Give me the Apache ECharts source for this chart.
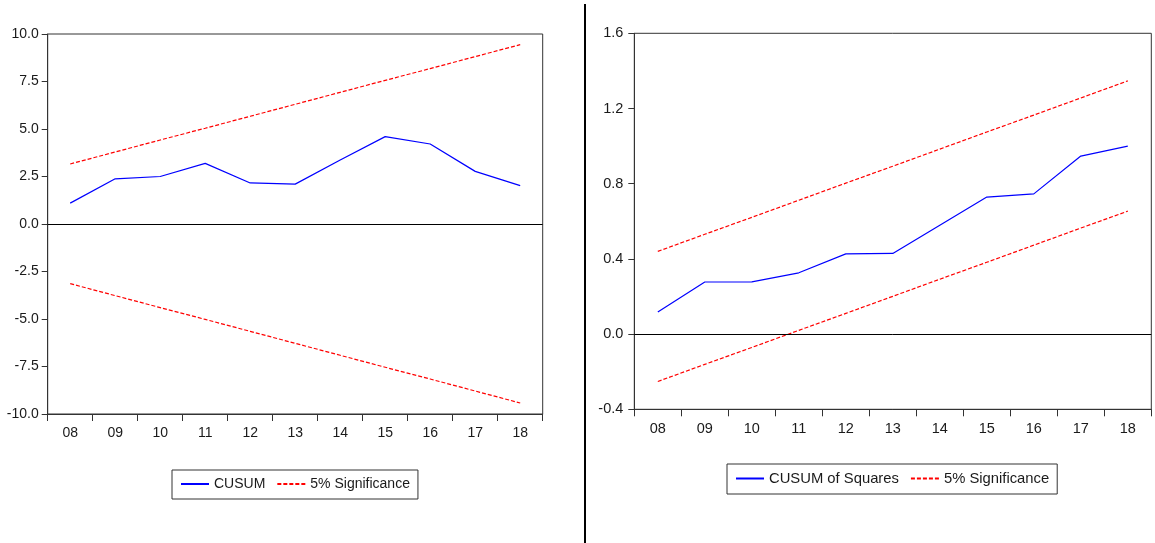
<!DOCTYPE html>
<html>
<head>
<meta charset="utf-8">
<script src="https://cdn.jsdelivr.net/npm/echarts@6/dist/echarts.min.js"></script>
<style>
html,body{margin:0;padding:0;background:#fff;}
#c{width:1155px;height:543px;}
</style>
</head>
<body>
<div id="c"></div>
<script>
const categories = ['08','09','10','11','12','13','14','15','16','17','18'];
const cusum = [1.10, 2.38, 2.50, 3.19, 2.16, 2.10, 3.37, 4.60, 4.21, 2.77, 2.02];
const cusumUpper = [3.16, 3.79, 4.42, 5.04, 5.67, 6.30, 6.93, 7.56, 8.18, 8.81, 9.44];
const cusumLower = [-3.14, -3.77, -4.40, -5.02, -5.65, -6.28, -6.91, -7.54, -8.16, -8.79, -9.42];
const cusumSq = [0.117, 0.277, 0.278, 0.326, 0.427, 0.429, 0.579, 0.729, 0.746, 0.947, 1.000];
const sqUpper = [0.440, 0.531, 0.621, 0.712, 0.803, 0.893, 0.984, 1.075, 1.165, 1.256, 1.347];
const sqLower = [-0.252, -0.161, -0.071, 0.020, 0.110, 0.201, 0.292, 0.382, 0.473, 0.564, 0.654];
const leftYTicks = {min: -10, max: 10, interval: 2.5};
const rightYTicks = {min: -0.4, max: 1.6, interval: 0.4};

const FONT = 'Liberation Sans, Arial, sans-serif';
const TXT = '#1a1a1a';
const FRAME = '#333';

function xAxis(gridIndex, fs){
  return {
    type: 'category', gridIndex, data: categories, boundaryGap: true,
    axisLine: {show: true, onZero: false, lineStyle: {color: FRAME, width: 1}},
    axisTick: {show: true, interval: 0, length: 7, lineStyle: {color: FRAME}},
    axisLabel: {interval: 0, margin: 12, fontFamily: FONT, fontSize: fs, color: TXT},
    splitLine: {show: false}
  };
}
function yAxis(gridIndex, t, margin, fs){
  return {
    type: 'value', gridIndex, min: t.min, max: t.max, interval: t.interval,
    axisLine: {show: true, onZero: false, lineStyle: {color: FRAME, width: 1}},
    axisTick: {show: true, length: 6, lineStyle: {color: FRAME}},
    axisLabel: {margin: margin, fontFamily: FONT, fontSize: fs, color: TXT,
      formatter: v => v.toFixed(1)},
    splitLine: {show: false}
  };
}
const blueLine = {color: '#0000ff', width: 1.2};
const redLine = {color: '#ff0000', width: 1.2, type: [4, 2]};
const zeroMark = {silent: true, symbol: 'none', label: {show: false},
  lineStyle: {color: '#000', width: 1, type: 'solid'}, data: [{yAxis: 0}]};

function legend(names, left, top, fs, gap){
  return {
    data: names, left, top, orient: 'horizontal',
    itemWidth: 28, itemHeight: 14, itemGap: gap, padding: [7, 8, 8, 8],
    borderColor: '#333', borderWidth: 1,
    itemStyle: {opacity: 0},
    textStyle: {fontFamily: FONT, fontSize: fs, color: TXT},
    selectedMode: false
  };
}

const chart = echarts.init(document.getElementById('c'), null, {renderer: 'canvas'});
chart.setOption({
  animation: false,
  backgroundColor: '#fff',
  grid: [
    {left: 47.7, top: 34, width: 495, height: 380, show: true, borderColor: FRAME, borderWidth: 1, backgroundColor: 'transparent'},
    {left: 634.3, top: 33.3, width: 517, height: 376, show: true, borderColor: FRAME, borderWidth: 1, backgroundColor: 'transparent'}
  ],
  xAxis: [xAxis(0, 14), xAxis(1, 14.5)],
  yAxis: [yAxis(0, leftYTicks, 9, 14), yAxis(1, rightYTicks, 11, 14.5)],
  legend: [
    legend(['CUSUM', '5% Significance'], 172, 470, 14, 11),
    legend(['CUSUM of Squares', '5% Significance'], 727, 464, 14.8, 11)
  ],
  graphic: [
    {type: 'line', shape: {x1: 585, y1: 4, x2: 585, y2: 543}, style: {stroke: '#000', lineWidth: 2}, silent: true}
  ],
  series: [
    {name: 'CUSUM', type: 'line', xAxisIndex: 0, yAxisIndex: 0, data: cusum, symbol: 'none',
     lineStyle: blueLine, itemStyle: {color: '#0000ff'}, markLine: zeroMark, z: 3},
    {name: '5% Significance', type: 'line', xAxisIndex: 0, yAxisIndex: 0, data: cusumUpper, symbol: 'none',
     lineStyle: redLine, itemStyle: {color: '#ff0000'}},
    {name: '5% Significance', type: 'line', xAxisIndex: 0, yAxisIndex: 0, data: cusumLower, symbol: 'none',
     lineStyle: redLine, itemStyle: {color: '#ff0000'}},
    {name: 'CUSUM of Squares', type: 'line', xAxisIndex: 1, yAxisIndex: 1, data: cusumSq, symbol: 'none',
     lineStyle: blueLine, itemStyle: {color: '#0000ff'}, markLine: zeroMark, z: 3},
    {name: '5% Significance', type: 'line', xAxisIndex: 1, yAxisIndex: 1, data: sqUpper, symbol: 'none',
     lineStyle: redLine, itemStyle: {color: '#ff0000'}},
    {name: '5% Significance', type: 'line', xAxisIndex: 1, yAxisIndex: 1, data: sqLower, symbol: 'none',
     lineStyle: redLine, itemStyle: {color: '#ff0000'}}
  ]
});
</script>
</body>
</html>
